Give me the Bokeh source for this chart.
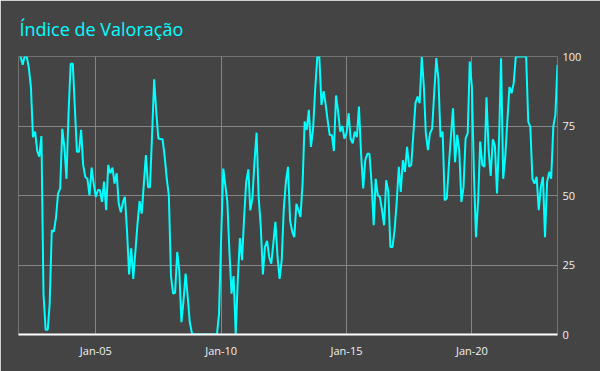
import pandas as pd
from bokeh.plotting import figure
from bokeh.models import (Range1d, LinearAxis, FixedTicker, DatetimeTickFormatter,
                          ColumnDataSource)
from bokeh.embed import file_html
from bokeh.resources import INLINE

# ---------------- data ----------------
title_text = "Índice de Valoração"
start_month = "2002-01-01"
values = [
    100, 97, 100, 100, 96, 89, 71, 73, 66, 64, 71.4, 14.7,
    1.7, 1.7, 11, 37.5, 37, 42, 50.7, 52.5, 74, 67.5, 56, 79.6,
    97.4, 97.4, 82, 65.7, 65.7, 73.6, 61, 56.7, 56, 50, 60, 54.3,
    49.5, 52, 52, 47.7, 55, 44.7, 61, 58, 60, 54.3, 58, 47,
    44, 47.7, 49.5, 37, 21.6, 31, 20, 30, 40, 48, 43.5, 54,
    64.5, 53, 53, 72, 91.8, 80, 70.5, 70.3, 70.2, 64, 56, 50,
    21, 14.7, 15, 29.7, 23, 4.4, 12, 21.9, 13.5, 4.4, 0.5, 0,
    0, 0, 0, 0, 0, 0, 0, 0, 0, 0, 0, 7.5,
    35, 59.7, 54, 47.7, 30, 14.7, 21, 0.2, 20, 34.7, 26.7, 42,
    55, 59.4, 44.7, 49, 62, 72.6, 49.5, 38.7, 21.6, 31.5, 33.7, 27.9,
    25.5, 33, 40.5, 27.9, 20, 26.7, 45, 55, 60.3, 41, 37, 35,
    47, 44.7, 42.3, 54.3, 76.6, 73.6, 80.8, 67.5, 74, 88, 99.8, 100,
    82.6, 87.5, 83.2, 77, 71.8, 71.8, 66, 86, 80, 73, 75, 70.5,
    72.4, 79.6, 70.5, 68.8, 73, 71, 82, 65, 52.5, 62.7, 65, 65,
    54.3, 39.3, 56, 50, 49.5, 44.7, 39.3, 55.5, 51.3, 31.5, 31.5, 37.5,
    47.7, 60.3, 51.3, 62.7, 58.5, 67.5, 60.3, 61, 72.4, 83.2, 85.6, 83.2,
    99.8, 89, 72.4, 66.3, 72.4, 74, 86.8, 99.4, 91.6, 71, 73, 48.3,
    49, 61.5, 71, 81.4, 62, 71.8, 66.3, 47.7, 53, 70.5, 72.4, 98.2,
    89, 56.7, 35, 48.3, 69.4, 61, 60.3, 85.3, 66.3, 57, 70.2, 68,
    50.7, 71, 99.4, 56, 64, 77, 89, 86.8, 90.4, 99.8, 100, 100,
    100, 100, 100, 76.6, 74.8, 56, 54.3, 56.7, 44.7, 53, 56.7, 35,
    55, 58.5, 56, 74.8, 79, 97,
]
x_tick_dates = ["2005-01-01", "2010-01-01", "2015-01-01", "2020-01-01"]
y_ticks = [0, 25, 50, 75, 100]

dates = pd.date_range(start=start_month, periods=len(values), freq="MS")
source = ColumnDataSource(data=dict(date=dates, value=values))

BG = "#444444"
CYAN = "#00ffff"
GRID = "#858585"
TXT = "#f2f2f2"

p = figure(width=600, height=371, x_axis_type="datetime",
           y_axis_location=None, output_backend="svg", toolbar_location=None,
           min_border_left=18, min_border_right=43, min_border_top=56,
           min_border_bottom=37,
           x_range=Range1d(dates[0] - pd.Timedelta(days=30), dates[-1]),
           y_range=Range1d(0, 100))

p.background_fill_color = BG
p.border_fill_color = BG
p.outline_line_color = None

p.title.text = title_text
p.title.text_color = CYAN
p.title.text_font = "Open Sans"
p.title.text_font_size = "18px"
p.title.text_font_style = "normal"
p.title.align = "left"
p.title.vertical_align = "middle"
p.title.offset = 1
p.title.standoff = 29

p.line("date", "value", source=source, color=CYAN, line_width=2)

# x axis
xt = [pd.Timestamp(d).value / 1e6 for d in x_tick_dates]
xa = p.xaxis[0]
xa.ticker = FixedTicker(ticks=xt)
fmt = "%b-%y"
xa.formatter = DatetimeTickFormatter(years=fmt, months=fmt, days=fmt, hours=fmt,
                                     minutes=fmt, seconds=fmt, milliseconds=fmt,
                                     microseconds=fmt, hourmin=fmt, minsec=fmt)
xa.axis_line_color = "#ffffff"
xa.axis_line_width = 2
xa.major_tick_line_color = None
xa.minor_tick_line_color = None
xa.major_tick_out = 0
xa.major_tick_in = 0
xa.major_label_standoff = 8
xa.major_label_text_color = TXT
xa.major_label_text_font = "Open Sans"
xa.major_label_text_font_size = "11px"

# right y axis
ya = LinearAxis(ticker=FixedTicker(ticks=y_ticks))
ya.axis_line_color = None
ya.major_tick_line_color = None
ya.minor_tick_line_color = None
ya.major_tick_out = 0
ya.major_tick_in = 0
ya.major_label_standoff = 5
ya.major_label_text_color = TXT
ya.major_label_text_font = "Open Sans"
ya.major_label_text_font_size = "11px"
ya.major_label_text_baseline = "middle"
p.add_layout(ya, "right")

p.xgrid.ticker = FixedTicker(ticks=xt)
p.xgrid.grid_line_color = GRID
p.xgrid.grid_line_width = 1
p.ygrid.ticker = FixedTicker(ticks=y_ticks)
p.ygrid.grid_line_color = GRID
p.ygrid.grid_line_width = 1

open("out.html", "w").write(file_html(p, INLINE))
